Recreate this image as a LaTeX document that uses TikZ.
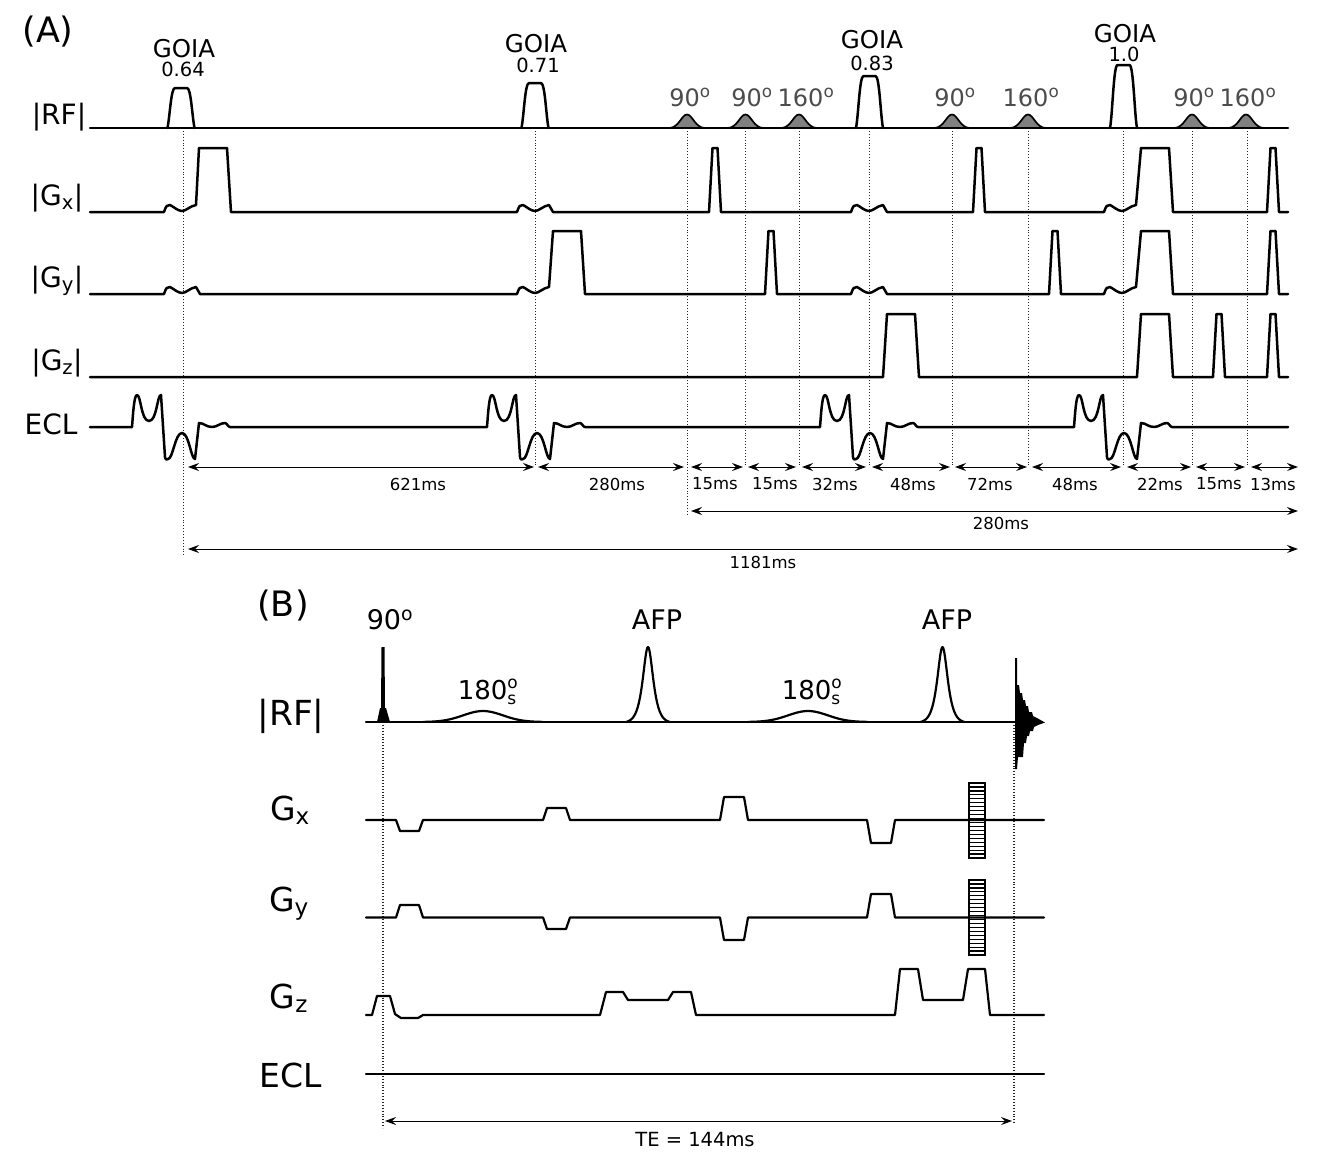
\documentclass[tikz,border=0pt]{standalone}
\usepackage{fontspec}
\setmainfont{DejaVu Sans}
\usetikzlibrary{arrows.meta,calc}
% ---- pieces of a gradient or RF trace, used inside a path ----
\newcommand{\wigpart}[2]{-- ({#1-18},#2) .. controls ({#1-16},{#2-6}) and ({#1-15},{#2-7.5}) .. ({#1-12},{#2-7}) .. controls ({#1-8},{#2-5}) and ({#1-4},{#2-1}) .. (#1,{#2-1}) .. controls ({#1+4},{#2-1}) and ({#1+8},{#2-6}) .. ({#1+14},{#2-7})}
\newcommand{\spikepart}[3]{-- ({#1-6},#2) -- ({#1-2.5},#3) -- ({#1+2.5},#3) -- ({#1+6},#2)}
\newcommand{\traptop}[4]{-- (#1,#3) -- ({#1+4},#4) -- ({#2-4},#4) -- (#2,#3)}
\newcommand{\eclpart}[2]{-- ({#1-50},#2) .. controls ({#1-49},{#2-12}) and ({#1-48},{#2-32}) .. ({#1-45},{#2-32}) .. controls ({#1-41},{#2-32}) and ({#1-41},{#2-6}) .. ({#1-33},{#2-6}) .. controls ({#1-25},{#2-6}) and ({#1-25},{#2-32}) .. ({#1-21},{#2-32}) -- ({#1-17},{#2+30}) .. controls ({#1-16.5},{#2+33}) and ({#1-15},{#2+33}) .. ({#1-14},{#2+32}) .. controls ({#1-9},{#2+32}) and ({#1-7},{#2+6}) .. (#1,{#2+6}) .. controls ({#1+7},{#2+6}) and ({#1+9},{#2+32}) .. ({#1+13},{#2+32}) -- ({#1+17},{#2-4}) .. controls ({#1+22},{#2-4}) and ({#1+24},{#2}) .. ({#1+30},{#2}) .. controls ({#1+35},{#2}) and ({#1+38},{#2-4}) .. ({#1+43},{#2-4}) .. controls ({#1+45},{#2-4}) and ({#1+46},{#2}) .. ({#1+48},{#2})}
\newcommand{\goiapart}[2]{({#1-13.5},128) .. controls ({#1-11},115) and ({#1-10},#2) .. ({#1-6},#2) -- ({#1+6},#2) .. controls ({#1+10},#2) and ({#1+11},115) .. ({#1+13.5},128)}
\newcommand{\bellpart}[4]{({#1-#3},#2) .. controls ({#1-0.45*#3},#2) and ({#1-0.3*#3},#4) .. (#1,#4) .. controls ({#1+0.3*#3},#4) and ({#1+0.45*#3},#2) .. ({#1+#3},#2)}
\newcommand{\sizedfont}[1]{\fontsize{#1}{#1}\selectfont}
\newcommand{\sdeg}{\textsuperscript{o}}
\begin{document}
\begin{tikzpicture}[x=1pt,y=-1pt,>={Stealth[length=11pt,width=8pt,inset=4pt]},
    trace/.style={line width=2.5pt, line join=round, line cap=round},
    thintrace/.style={line width=2.2pt, line join=round, line cap=round},
    dotline/.style={line width=0.9pt, dotted, black!85},
    dim/.style={<->, line width=0.9pt},
    lbl/.style={font=\sizedfont{16.5}, inner sep=0pt},
    rowa/.style={font=\sizedfont{28}, inner sep=0pt},
    rowb/.style={font=\sizedfont{33}, inner sep=0pt},
    goia/.style={font=\sizedfont{24.5}, inner sep=0pt},
    goiaval/.style={font=\sizedfont{19.5}, inner sep=0pt},
    flip/.style={font=\sizedfont{24}, inner sep=0pt, text=black!70},
    rfb/.style={font=\sizedfont{27}, inner sep=0pt}]
  \useasboundingbox (0,0) rectangle (1320,1168);
  \node[font=\sizedfont{35}, inner sep=0pt] (panela) at (48,32) {(A)};
  \node[font=\sizedfont{35}, inner sep=0pt] (panelb) at (283,606) {(B)};
  % ---- panel A: dotted time marks ----
  \foreach \n/\x/\yend in {a/183.5/555,b/535/465,c/687/515,d/745.5/467,e/799/467,f/869/467,g/952/467,h/1028/467,i/1123/467,j/1192/467,k/1247/467}{
    \coordinate (top\n) at (\x,128);
    \coordinate (end\n) at (\x,\yend);
    \draw[dotline] (top\n) -- (end\n);
  }
  % ---- panel A: row names ----
  \node[rowa] (rfa) at (59,117) {|RF|};
  \node[rowa] (gxa) at (57,198) {|G\textsubscript{x}|};
  \node[rowa] (gya) at (57,281) {|G\textsubscript{y}|};
  \node[rowa] (gza) at (57,363) {|G\textsubscript{z}|};
  \node[rowa] (ecla) at (51,424) {ECL};
  % ---- panel A: RF ----
  \foreach \c in {687,745.5,799,952,1028,1192,1246}
    \draw[line width=1.7pt, fill=black!50] \bellpart{\c}{128}{18}{114.5};
  \draw[trace] (90,128) -- (1288,128);
  \draw[trace] \goiapart{181}{88};
  \draw[trace] \goiapart{535}{83};
  \draw[trace] \goiapart{869.5}{76};
  \draw[trace] \goiapart{1123.5}{65};
  \node[goia] (goiaa) at (184,49) {GOIA};
  \node[goiaval] (vala) at (183,69) {0.64};
  \node[goia] (goiab) at (536,44) {GOIA};
  \node[goiaval] (valb) at (538,65) {0.71};
  \node[goia] (goiac) at (872,40) {GOIA};
  \node[goiaval] (valc) at (872,63) {0.83};
  \node[goia] (goiad) at (1125,34) {GOIA};
  \node[goiaval] (vald) at (1124,54) {1.0};
  \foreach \n/\x/\t in {p/690/90,q/752/90,r/806/160,s/955/90,t/1031/160,u/1194/90,v/1248/160}
    \node[flip] (flip\n) at (\x,97) {\t\sdeg};
  % ---- panel A: gradients ----
  \draw[trace] (90,212) \wigpart{182}{212} -- (199,148) -- (227,148) -- (231,212) \wigpart{535}{212} -- (553,212)
    \spikepart{715}{212}{148} \wigpart{869}{212} -- (887,212) \spikepart{979}{212}{148} \wigpart{1122}{212}
    -- (1141,148) -- (1169,148) -- (1173,212) \spikepart{1273}{212}{148} -- (1288,212);
  \draw[trace] (90,294) \wigpart{182}{294} -- (200,294) \wigpart{535}{294} -- (553,231) -- (581,231) -- (585,294)
    \spikepart{771}{294}{231} \wigpart{869}{294} -- (887,294) \spikepart{1055}{294}{231} \wigpart{1122}{294}
    -- (1141,231) -- (1169,231) -- (1173,294) \spikepart{1273}{294}{231} -- (1288,294);
  \draw[trace] (90,377) \traptop{883}{919}{377}{314} \traptop{1137}{1173}{377}{314}
    \spikepart{1219}{377}{314} \spikepart{1273}{377}{314} -- (1288,377);
  \draw[trace] (90,427) \eclpart{182}{427} \eclpart{537}{427} \eclpart{870}{427} \eclpart{1124}{427} -- (1288,427);
  % ---- panel A: durations ----
  \foreach \n/\xa/\xb/\xl/\t in {a/188/534/418/621ms,b/538/684/617/280ms,c/691/743/715/15ms,d/748/796/775/15ms,e/802/866/835/32ms,f/872/950/913/48ms,g/955/1027/990/72ms,h/1032/1121/1075/48ms,i/1127/1191/1160/22ms,j/1196/1245/1219/15ms,k/1251/1298/1273/13ms}{
    \coordinate (durl\n) at (\xa,467);
    \coordinate (durr\n) at (\xb,467);
    \draw[dim] (durl\n) -- (durr\n);
    \node[lbl] (dur\n) at (\xl,484) {\t};
  }
  \coordinate (spanal) at (691,511);
  \coordinate (spanar) at (1298,511);
  \draw[dim] (spanal) -- (spanar);
  \node[lbl] (spanalbl) at (1001,523) {280ms};
  \coordinate (spanbl) at (188,549);
  \coordinate (spanbr) at (1298,549);
  \draw[dim] (spanbl) -- (spanbr);
  \node[lbl] (spanblbl) at (763,562) {1181ms};
  % ---- panel B: dotted time marks ----
  \coordinate (exctop) at (383,722);
  \coordinate (excend) at (383,1128);
  \coordinate (echotop) at (1014,722);
  \coordinate (echoend) at (1014,1124);
  \draw[dotline, line width=1.1pt] (exctop) -- (excend);
  \draw[dotline, line width=1.1pt] (echotop) -- (echoend);
  % ---- panel B: row names ----
  \node[font=\sizedfont{34.5}, inner sep=0pt] (rfc) at (291,716) {|RF|};
  \node[rowb] (gxc) at (290,810) {G\textsubscript{x}};
  \node[rowb] (gyc) at (289,904) {G\textsubscript{y}};
  \node[rowb] (gzc) at (289,998) {G\textsubscript{z}};
  \node[rowb] (eclc) at (291,1075) {ECL};
  % ---- panel B: RF ----
  \draw[thintrace] (366,722) -- (1015,722);
  \fill (377,722) -- (380,708) -- (381,708) -- (381.5,647) -- (384.5,647) -- (385,708) -- (386,708) -- (390,722) -- cycle;
  \foreach \c in {483,808}
    \draw[thintrace] plot[domain=-60:60, samples=50, smooth] ({\c+\x},{722-11*exp(-(\x/28)^2)});
  \foreach \c in {648,942.5}
    \draw[thintrace] plot[domain=-22:22, samples=70, smooth] ({\c+\x},{722-76.3/cosh(\x/4.6)+1.3});
  \fill (1015,658) -- (1017,658) -- (1017,685) -- (1019,685) -- (1020,693) -- (1022,693) -- (1023,700) -- (1025,700) -- (1026,706)
    -- (1028,706) -- (1029,712) -- (1032,712) -- (1033,716) -- (1037,718) -- (1045,722.5)
    -- (1038,725) -- (1034,727) -- (1033,731) -- (1030,731) -- (1029,736) -- (1027,736) -- (1026,743) -- (1024,743) -- (1023,757)
    -- (1018,757) -- (1017,769) -- (1015,769) -- cycle;
  \node[rfb] (excname) at (390,620) {90\sdeg};
  \node[rfb] (afpa) at (657,620) {AFP};
  \node[rfb] (afpb) at (947,620) {AFP};
  \foreach \n/\x in {a/487,b/811}
    \node[font=\sizedfont{26}, inner sep=0pt] (refoc\n) at (\x,692) {180\rlap{\raisebox{0.42em}{\sizedfont{17}o}}\raisebox{-0.2em}{\sizedfont{17}s}};
  % ---- panel B: gradients ----
  \draw[thintrace] (366,820) \traptop{396}{423}{820}{831} \traptop{543}{570}{820}{808}
    \traptop{720}{748}{820}{797} \traptop{867}{895}{820}{843} -- (1044,820);
  \draw[thintrace] (366,917.5) \traptop{396}{423}{917.5}{905} \traptop{543}{570}{917.5}{929}
    \traptop{720}{748}{917.5}{940} \traptop{867}{895}{917.5}{894} -- (1044,917.5);
  \draw[thintrace] (366,1015) -- (372,1015) -- (377,996) -- (390,996) -- (395,1014) -- (401,1018) -- (418,1018) -- (423,1015)
    -- (600,1015) -- (606,992) -- (623,992) -- (628,1000) -- (668,1000) -- (673,992) -- (691,992) -- (696,1015)
    -- (895,1015) -- (900,969) -- (918,969) -- (923,1000) -- (963,1000) -- (968,969) -- (985,969) -- (990,1015) -- (1044,1015);
  \coordinate (eclcl) at (366,1074);
  \coordinate (eclcr) at (1044,1074);
  \draw[thintrace] (eclcl) -- (eclcr);
  % ---- panel B: encoding tables ----
  \foreach \ytop/\ybot in {783/858,880/955}{
    \draw[line width=1.4pt] (969,\ytop) rectangle (985,\ybot);
    \foreach \k in {1,...,18}
      \draw[line width=1.2pt] (969,{\ytop+\k*75/19}) -- (985,{\ytop+\k*75/19});
  }
  % ---- panel B: echo time ----
  \coordinate (tel) at (385,1121);
  \coordinate (ter) at (1012,1121);
  \draw[dim] (tel) -- (ter);
  \node[font=\sizedfont{19.5}, inner sep=0pt] (telbl) at (695,1140) {TE = 144ms};
\end{tikzpicture}
\end{document}
